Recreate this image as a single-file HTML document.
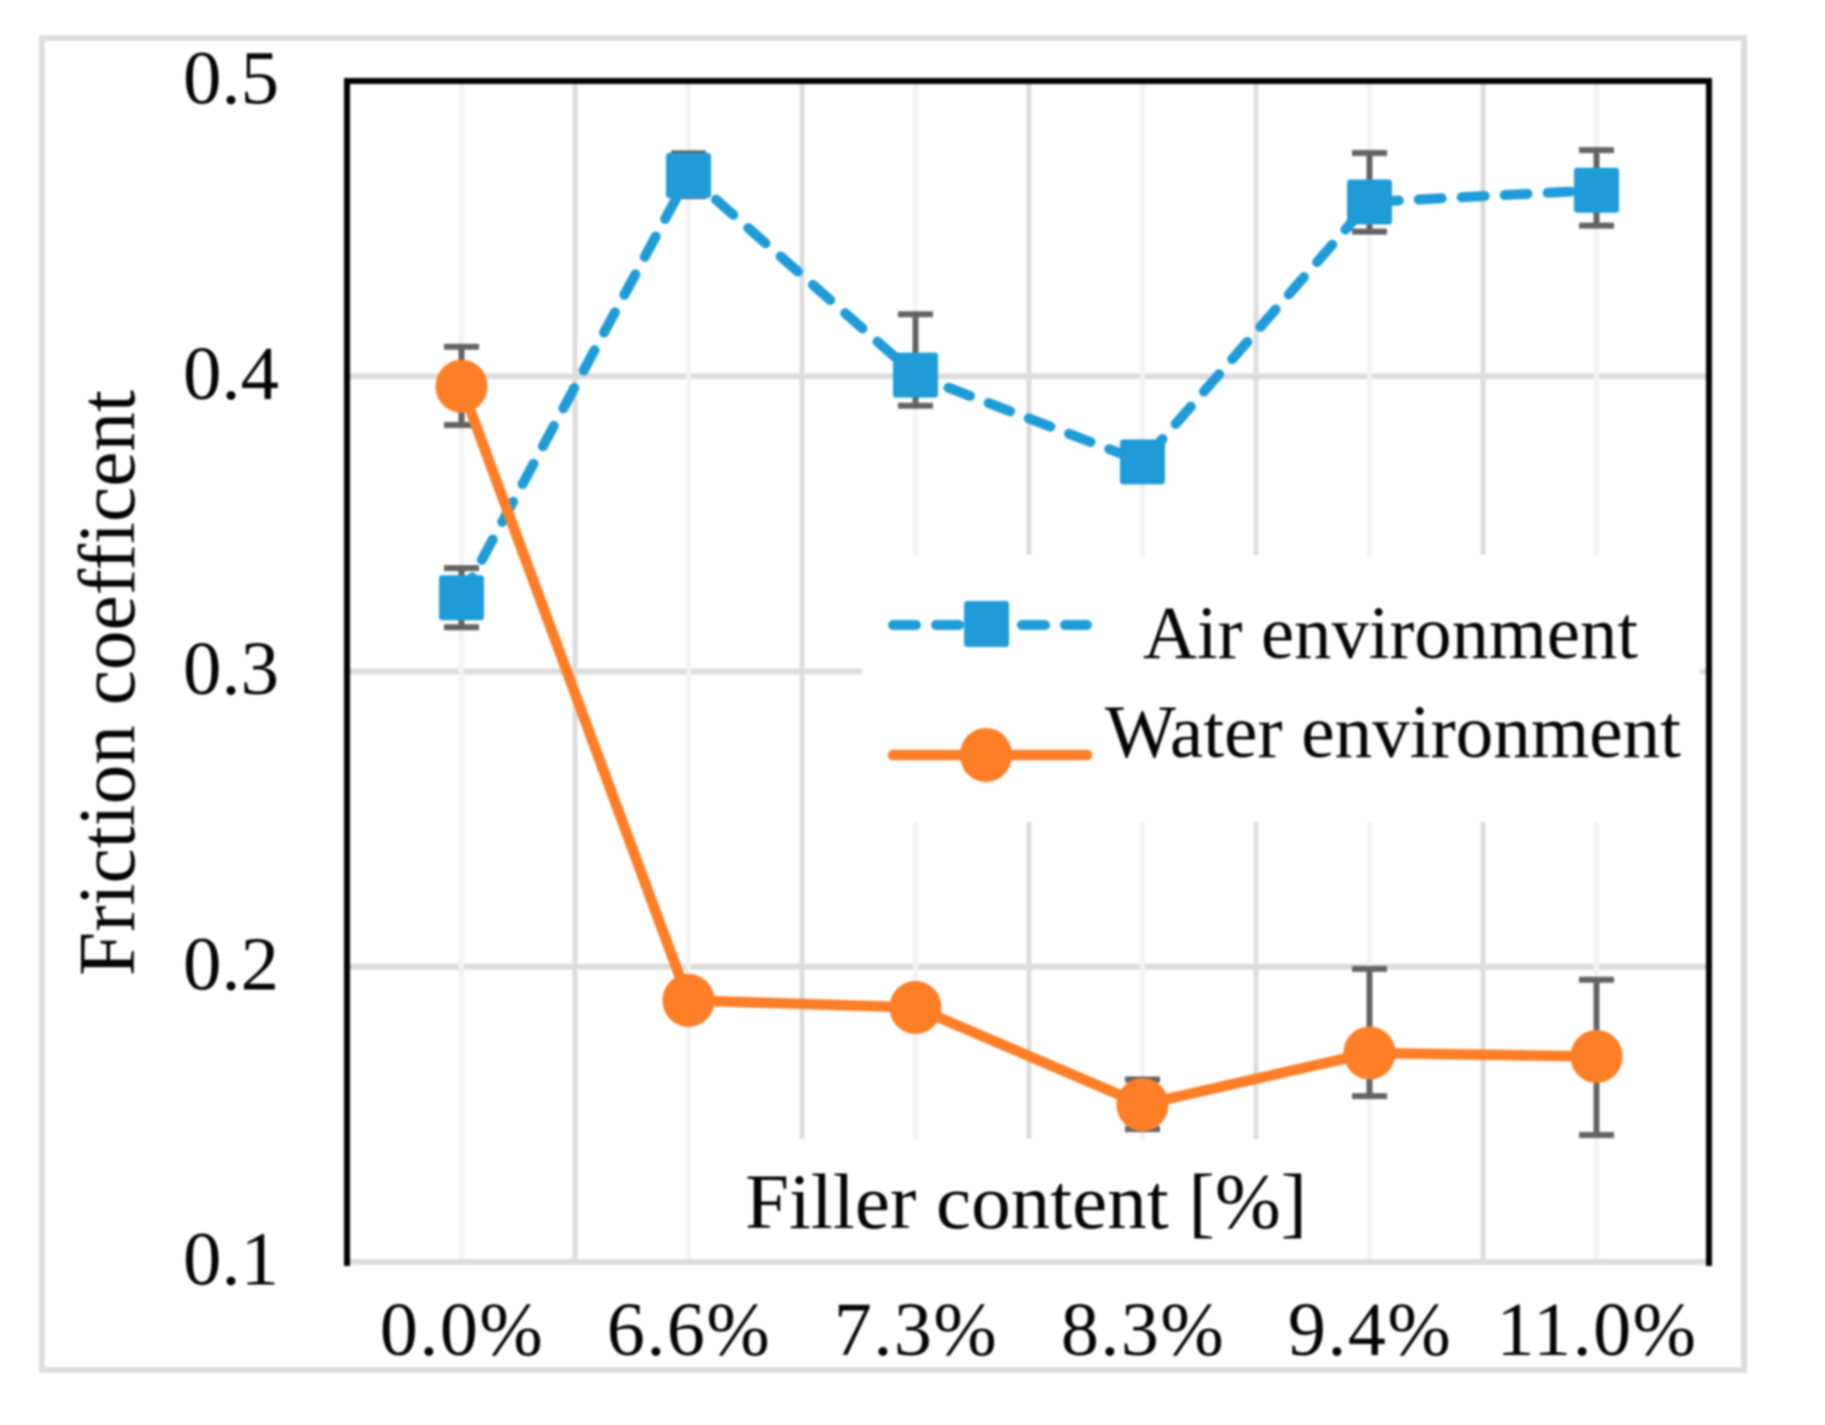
<!DOCTYPE html>
<html lang="en">
<head>
<meta charset="utf-8">
<title>Friction coefficient vs filler content</title>
<style>
html,body{margin:0;padding:0;background:#fff;}
#chart{display:block;width:1825px;height:1425px;filter:blur(1px);}
text{font-family:"Liberation Serif",serif;fill:#050505;}
</style>
</head>
<body>
<svg id="chart" xmlns="http://www.w3.org/2000/svg" width="1825" height="1425" viewBox="0 0 1825 1425">
  <rect x="42" y="38" width="1702" height="1332" fill="#fff" stroke="#dcdcdc" stroke-width="6"/>
  <g id="grid"></g>
  <rect x="862" y="555" width="838" height="267" fill="#fff"/>
  <rect x="720" y="1139" width="610" height="120" fill="#fff"/>
  <line x1="350" x2="1706" y1="1262" y2="1262" stroke="#dcdcdc" stroke-width="6"/>
  <path d="M347 1266V81H1709V1266" fill="none" stroke="#000" stroke-width="6"/>
  <g id="ticks"></g>
  <g id="errors"></g>
  <g id="series"></g>
  <text transform="translate(134 976) rotate(-90)" font-size="80" textLength="586" lengthAdjust="spacingAndGlyphs">Friction coefficent</text>
  <text x="745" y="1228" font-size="78" textLength="562" lengthAdjust="spacingAndGlyphs">Filler content [%]</text>
  <g>
    <g>
      <line x1="893" x2="1087" y1="625" y2="625" stroke="#1f9cd8" stroke-width="10" stroke-linecap="round" stroke-dasharray="23 20"/>
      <rect x="964" y="601" width="45" height="46" rx="3" fill="#1f9cd8"/>
      <text x="1143" y="658" font-size="75" textLength="495" lengthAdjust="spacingAndGlyphs">Air environment</text>
    </g>
    <g>
      <line x1="893" x2="1087" y1="755" y2="755" stroke="#fd7e26" stroke-width="10.5" stroke-linecap="round"/>
      <ellipse cx="986" cy="755" rx="26" ry="27" fill="#fd7e26"/>
      <text x="1105" y="757" font-size="75" textLength="576" lengthAdjust="spacingAndGlyphs">Water environment</text>
    </g>
  </g>
</svg>
<script>
var categories = ["0.0%", "6.6%", "7.3%", "8.3%", "9.4%", "11.0%"];
var yTicks = [0.5, 0.4, 0.3, 0.2, 0.1];
var yTickLabels = ["0.5", "0.4", "0.3", "0.2", "0.1"];
var airValues = [0.325, 0.468, 0.4004, 0.371, 0.459, 0.463];
var airErrHigh = [0.335, 0.4755, 0.421, 0.376, 0.4756, 0.4766];
var airErrLow = [0.315, 0.461, 0.39, 0.366, 0.449, 0.451];
var waterValues = [0.3966, 0.1886, 0.1862, 0.1533, 0.1708, 0.1696];
var waterErrHigh = [0.41, 0.192, 0.19, 0.1618, 0.1993, 0.1956];
var waterErrLow = [0.3835, 0.185, 0.182, 0.145, 0.1562, 0.143];

var SVGNS = "http://www.w3.org/2000/svg";
var PLOT_LEFT = 348, BAND = 227, Y_BOTTOM = 1262, Y_SPAN = 1181, V_MIN = 0.1, V_MAX = 0.5;
function xPos(i) { return PLOT_LEFT + BAND * (i + 0.5); }
function yPos(v) { return Y_BOTTOM - (v - V_MIN) / (V_MAX - V_MIN) * Y_SPAN; }
function make(tag, attrs, parent) {
  var el = document.createElementNS(SVGNS, tag);
  for (var k in attrs) { el.setAttribute(k, attrs[k]); }
  parent.appendChild(el);
  return el;
}
var grid = document.getElementById("grid");
var ticks = document.getElementById("ticks");
var errors = document.getElementById("errors");
var series = document.getElementById("series");

yTicks.forEach(function (v, i) {
  if (v !== V_MAX && v !== V_MIN) {
    var h = make("line", { x1: 350, x2: 1706, y1: yPos(v), y2: yPos(v), stroke: "#dcdcdc", "stroke-width": 6 }, grid);
    
    
  }
  var t = make("text", { x: 183, y: yPos(v) + 22.5, "font-size": 76, textLength: 96, lengthAdjust: "spacingAndGlyphs" }, ticks);
  t.textContent = yTickLabels[i];
  
  
});

categories.forEach(function (c, i) {
  var light = make("line", { x1: xPos(i), x2: xPos(i), y1: 84, y2: 1259, stroke: "#f2f2f2", "stroke-width": 5 }, grid);
  
  
  if (i < categories.length - 1) {
    var bx = PLOT_LEFT + BAND * (i + 1);
    var dark = make("line", { x1: bx, x2: bx, y1: 84, y2: 1259, stroke: "#dcdcdc", "stroke-width": 5 }, grid);
    
    
  }
  var t = make("text", { x: xPos(i) + 0.5, y: 1355, "font-size": 76, "text-anchor": "middle", "letter-spacing": "1.5" }, ticks);
  t.textContent = c;
  
  
});

function drawErrors(high, low, prefix) {
  high.forEach(function (hv, i) {
    var g = make("g", {}, errors);
    
    
    var x = xPos(i), yh = yPos(hv), yl = yPos(low[i]);
    make("path", {
      d: "M" + x + " " + yh + "V" + yl + "M" + (x - 17.5) + " " + yh + "H" + (x + 17.5) + "M" + (x - 17.5) + " " + yl + "H" + (x + 17.5),
      stroke: "#636363", "stroke-width": 6, fill: "none"
    }, g);
  });
}
drawErrors(airErrHigh, airErrLow, "air");
drawErrors(waterErrHigh, waterErrLow, "water");

function linePoints(vals) {
  return vals.map(function (v, i) { return xPos(i) + "," + yPos(v); }).join(" ");
}
var airLine = make("polyline", { points: linePoints(airValues), fill: "none", stroke: "#1f9cd8", "stroke-width": 10, "stroke-linecap": "round", "stroke-dasharray": "23 20" }, series);


var waterLine = make("polyline", { points: linePoints(waterValues), fill: "none", stroke: "#fd7e26", "stroke-width": 10.5, "stroke-linejoin": "round" }, series);



airValues.forEach(function (v, i) {
  var m = make("rect", { x: xPos(i) - 22.5, y: yPos(v) - 22.5, width: 45, height: 45, rx: 3, fill: "#1f9cd8" }, series);
  
  
});
waterValues.forEach(function (v, i) {
  var m = make("ellipse", { cx: xPos(i), cy: yPos(v), rx: 26, ry: 26.5, fill: "#fd7e26" }, series);
  
  
});
</script>
</body>
</html>
